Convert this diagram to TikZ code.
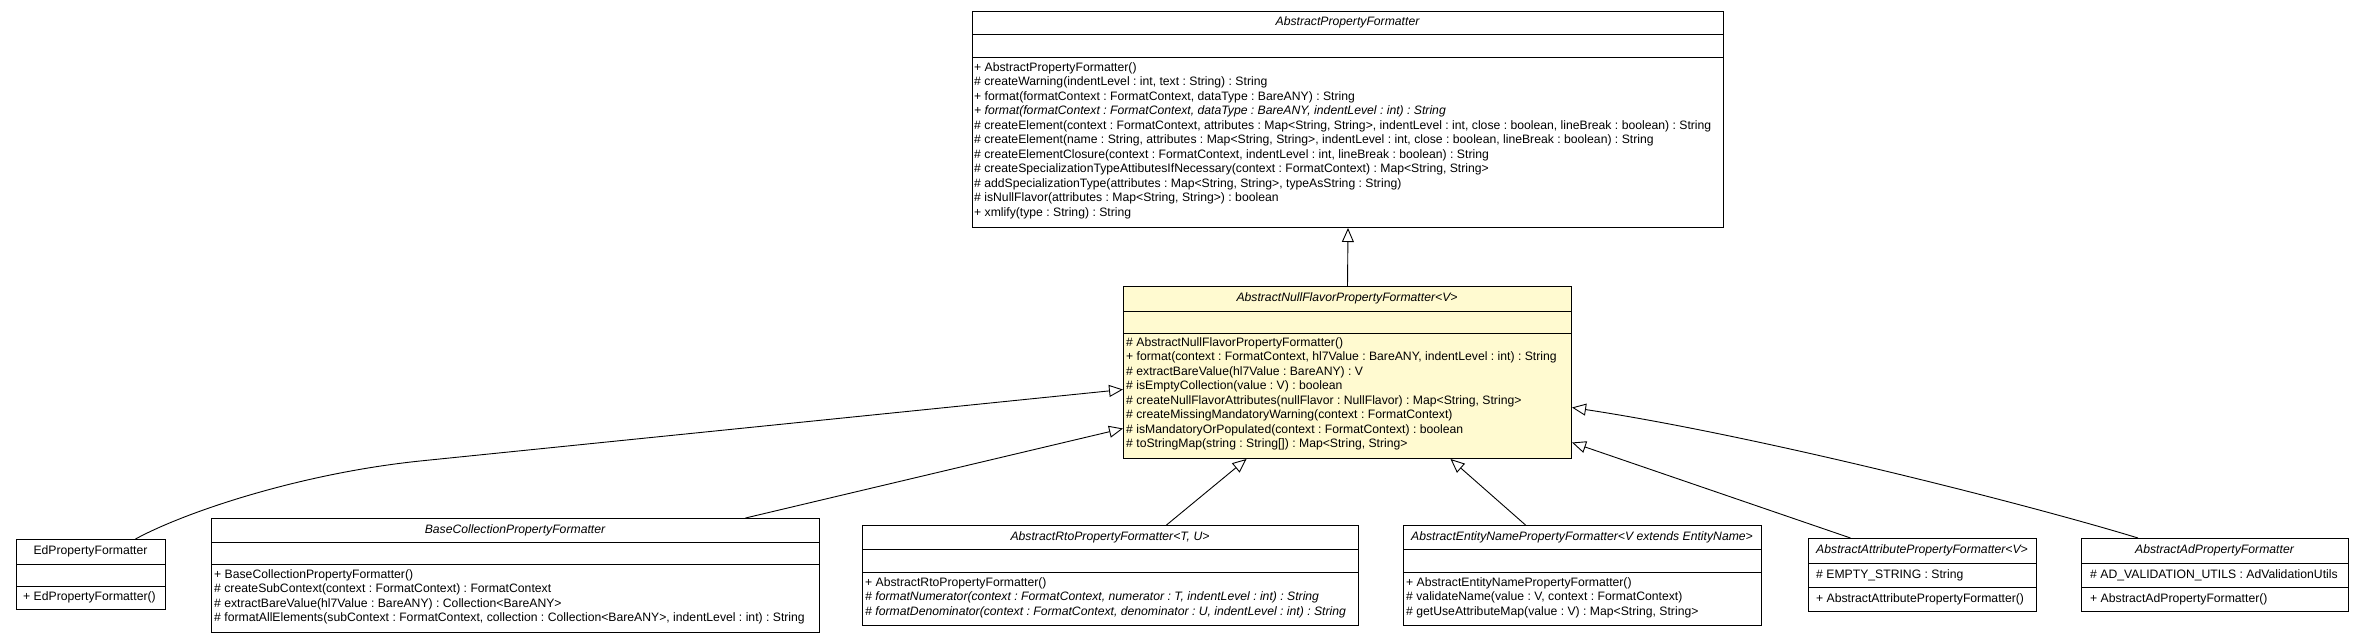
\documentclass[tikz,border=0pt]{standalone}
\usepackage{fontspec}
\setmainfont{Liberation Sans}
\usetikzlibrary{arrows.meta}

\definecolor{nullfill}{RGB}{255,250,208}

\tikzset{
  classbox/.style={draw, line width=1pt, inner sep=0pt, anchor=north west},
  members/.style={anchor=north west, align=left, inner sep=0pt,
    font=\fontsize{12.2}{14.5}\selectfont\frenchspacing},
  title/.style={inner sep=0pt, font=\fontsize{12.2}{14.5}\selectfont\itshape},
  extends/.style={-{Triangle[open,length=14pt,width=12pt]}, line width=0.9pt},
}

\begin{document}
\begin{tikzpicture}[x=1pt, y=-1pt]

\useasboundingbox[fill=white] (0,0) rectangle (2364,643);

% superclass
\node[classbox, minimum width=751pt, minimum height=216pt] (apf) at (972,11) {};
\draw (972,34) -- (1723,34);
\draw (972,57) -- (1723,57);
\node[title] (apf-name) at (1347.5,22.5) {AbstractPropertyFormatter};
\node[members] (apf-ops) at (974,62) {+ AbstractPropertyFormatter()\\
\# createWarning(indentLevel : int, text : String) : String\\
+ format(formatContext : FormatContext, dataType : BareANY) : String\\
{\itshape + format(formatContext : FormatContext, dataType : BareANY, indentLevel : int) : String}\\
\# createElement(context : FormatContext, attributes : Map<String, String>, indentLevel : int, close : boolean, lineBreak : boolean) : String\\
\# createElement(name : String, attributes : Map<String, String>, indentLevel : int, close : boolean, lineBreak : boolean) : String\\
\# createElementClosure(context : FormatContext, indentLevel : int, lineBreak : boolean) : String\\
\# createSpecializationTypeAttibutesIfNecessary(context : FormatContext) : Map<String, String>\\
\# addSpecializationType(attributes : Map<String, String>, typeAsString : String)\\
\# isNullFlavor(attributes : Map<String, String>) : boolean\\
+ xmlify(type : String) : String};

% the highlighted class
\node[classbox, fill=nullfill, minimum width=448pt, minimum height=172pt] (anf) at (1123,286) {};
\draw (1123,311) -- (1571,311);
\draw (1123,333) -- (1571,333);
\node[title] (anf-name) at (1347,298.5) {AbstractNullFlavorPropertyFormatter<V>};
\node[members] (anf-ops) at (1126,337) {\# AbstractNullFlavorPropertyFormatter()\\
+ format(context : FormatContext, hl7Value : BareANY, indentLevel : int) : String\\
\# extractBareValue(hl7Value : BareANY) : V\\
\# isEmptyCollection(value : V) : boolean\\
\# createNullFlavorAttributes(nullFlavor : NullFlavor) : Map<String, String>\\
\# createMissingMandatoryWarning(context : FormatContext)\\
\# isMandatoryOrPopulated(context : FormatContext) : boolean\\
\# toStringMap(string : String[]) : Map<String, String>};

% subclasses
\node[classbox, minimum width=149pt, minimum height=70pt] (ed) at (16,539) {};
\draw (16,564) -- (165,564);
\draw (16,586) -- (165,586);
\node[title, font=\fontsize{12.2}{14.5}\selectfont] (ed-name) at (90.5,551.5) {EdPropertyFormatter};
\node[members] (ed-ops) at (23,591.5) {+ EdPropertyFormatter()};

\node[classbox, minimum width=608pt, minimum height=114pt] (bcpf) at (211,518) {};
\draw (211,542) -- (819,542);
\draw (211,564) -- (819,564);
\node[title] (bcpf-name) at (515,530) {BaseCollectionPropertyFormatter};
\node[members] (bcpf-ops) at (214,569) {+ BaseCollectionPropertyFormatter()\\
\# createSubContext(context : FormatContext) : FormatContext\\
\# extractBareValue(hl7Value : BareANY) : Collection<BareANY>\\
\# formatAllElements(subContext : FormatContext, collection : Collection<BareANY>, indentLevel : int) : String};

\node[classbox, minimum width=496pt, minimum height=100pt] (rto) at (862,525) {};
\draw (862,549) -- (1358,549);
\draw (862,572) -- (1358,572);
\node[title] (rto-name) at (1110,537) {AbstractRtoPropertyFormatter<T, U>};
\node[members] (rto-ops) at (865,577) {+ AbstractRtoPropertyFormatter()\\
{\itshape\# formatNumerator(context : FormatContext, numerator : T, indentLevel : int) : String}\\
{\itshape\# formatDenominator(context : FormatContext, denominator : U, indentLevel : int) : String}};

\node[classbox, minimum width=358pt, minimum height=100pt] (enpf) at (1403,525) {};
\draw (1403,549) -- (1761,549);
\draw (1403,572) -- (1761,572);
\node[title] (enpf-name) at (1582,537) {AbstractEntityNamePropertyFormatter<V extends EntityName>};
\node[members] (enpf-ops) at (1406,577) {+ AbstractEntityNamePropertyFormatter()\\
\# validateName(value : V, context : FormatContext)\\
\# getUseAttributeMap(value : V) : Map<String, String>};

\node[classbox, minimum width=228pt, minimum height=73pt] (attr) at (1808,538) {};
\draw (1808,563) -- (2036,563);
\draw (1808,587) -- (2036,587);
\node[title] (attr-name) at (1922,550.5) {AbstractAttributePropertyFormatter<V>};
\node[members] (attr-fields) at (1816,569) {\# EMPTY\_STRING : String};
\node[members] (attr-ops) at (1816,593) {+ AbstractAttributePropertyFormatter()};

\node[classbox, minimum width=267pt, minimum height=73pt] (ad) at (2081,538) {};
\draw (2081,563) -- (2348,563);
\draw (2081,587) -- (2348,587);
\node[title] (ad-name) at (2214.5,550.5) {AbstractAdPropertyFormatter};
\node[members] (ad-fields) at (2090,569) {\# AD\_VALIDATION\_UTILS : AdValidationUtils};
\node[members] (ad-ops) at (2090,593) {+ AbstractAdPropertyFormatter()};

% generalizations
\draw[extends] (anf.north) -- (apf.south);
\draw[extends] ([xshift=44.5pt]ed.north) .. controls (185,512) and (300,473.5) .. (420,461) -- ([yshift=-17pt]anf.west);
\draw[extends] ([xshift=230pt]bcpf.north) -- ([yshift=-56pt]anf.west);
\draw[extends] ([xshift=56pt]rto.north) -- ([xshift=-101pt]anf.south);
\draw[extends] ([xshift=-57pt]enpf.north) -- ([xshift=103pt]anf.south);
\draw[extends] ([xshift=-72pt]attr.north) -- ([yshift=-70pt]anf.east);
\draw[extends] ([xshift=-77pt]ad.north) .. controls (2030,505) and (1760,436) .. ([yshift=-35pt]anf.east);

\end{tikzpicture}
\end{document}
